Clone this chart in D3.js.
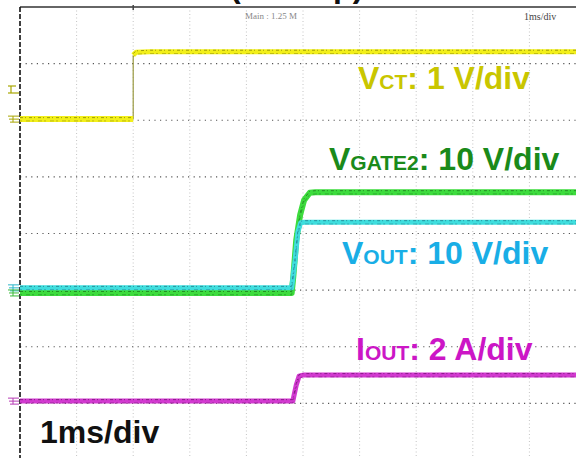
<!DOCTYPE html>
<html><head><meta charset="utf-8">
<script src="https://cdn.jsdelivr.net/npm/d3@7"></script>
<style>html,body{margin:0;padding:0;background:#fff;}svg{display:block;}</style>
</head><body>
<svg id="c" width="576" height="458"></svg>
<script>
// ---- data (time in ms, value in divisions from screen centre) ----
const xDivs = [0,1,2,3,4,5,6,7,8,9,10];
const yDivs = [-4,-3,-2,-1,0,1,2,3,4];
const vctLowT  = [0, 2.0];
const vctLowV  = [2.02, 2.02];
const vctHighT = [2.0, 2.05, 2.3, 10];
const vctHighV = [3.15, 3.2, 3.21, 3.21];
const gateT = [0, 4.80, 4.83, 4.88, 4.95, 5.02, 5.12, 5.22, 10];
const gateV = [-1.05, -1.05, -0.75, -0.12, 0.33, 0.59, 0.72, 0.73, 0.73];
const voutT = [0, 4.80, 4.86, 4.91, 4.96, 5.02, 10];
const voutV = [-0.96, -0.96, -0.47, 0.03, 0.19, 0.20, 0.20];
const ioutT = [0, 4.82, 4.88, 4.93, 5.00, 10];
const ioutV = [-2.96, -2.96, -2.68, -2.52, -2.50, -2.50];
const labels = [
  {main:"V", sub:"CT",    rest:": 1 V/div",  color:"#c9c600", x:358, y:89},
  {main:"V", sub:"GATE2", rest:": 10 V/div", color:"#1a8a1a", x:329, y:170},
  {main:"V", sub:"OUT",   rest:": 10 V/div", color:"#19aee6", x:342, y:264},
  {main:"I", sub:"OUT",   rest:": 2 A/div",  color:"#cc16c6", x:356, y:360}
];
const timebase = "1ms/div";
const headerMain = "Main : 1.25 M";
const headerTb = "1ms/div";
const titleCut = "(Startup)";

const svg = d3.select("#c");
const W = 576, H = 458;
const x = d3.scaleLinear().domain([0,10]).range([20,586]);
const y = d3.scaleLinear().domain([-4,4]).range([460,7]);

svg.append("rect").attr("width",W).attr("height",H).attr("fill","#fff");

// clipped title at the very top (only its lower edge shows, as in the reference)
svg.append("text").attr("x",230).attr("y",-3)
  .attr("font-family","Liberation Sans, Arial, sans-serif").attr("font-weight","bold")
  .attr("font-size",32).attr("fill","#111").text(titleCut);

// vertical grid (light dotted)
svg.append("g").selectAll("line").data(xDivs.filter(d=>d>0)).join("line")
  .attr("x1",d=>x(d)).attr("x2",d=>x(d)).attr("y1",y(4)).attr("y2",H)
  .attr("stroke","#c4c4c4").attr("stroke-width",1).attr("stroke-dasharray","1,2.5");
// horizontal grid (dark dotted)
svg.append("g").selectAll("line").data(yDivs.filter(d=>d<4 && d>-4)).join("line")
  .attr("x1",x(0)).attr("x2",W).attr("y1",d=>y(d)).attr("y2",d=>y(d))
  .attr("stroke","#555").attr("stroke-width",1.2).attr("stroke-dasharray","1.2,4.4");

// top border & left dashed border
svg.append("line").attr("x1",x(0)).attr("x2",W).attr("y1",y(4)).attr("y2",y(4))
  .attr("stroke","#666").attr("stroke-width",1.8);
svg.append("line").attr("x1",x(0)).attr("x2",x(0)).attr("y1",y(4)).attr("y2",H)
  .attr("stroke","#111").attr("stroke-width",1.6).attr("stroke-dasharray","5,2");
svg.append("line").attr("x1",x(2)).attr("x2",x(2)).attr("y1",y(4)-2).attr("y2",y(4)+3)
  .attr("stroke","#444").attr("stroke-width",1.5);

// header texts
svg.append("text").attr("x",245).attr("y",19).attr("font-family","Liberation Serif, serif")
  .attr("font-size",9).attr("fill","#888").text(headerMain);
svg.append("text").attr("x",524).attr("y",20).attr("font-family","Liberation Serif, serif")
  .attr("font-size",10).attr("fill","#444").text(headerTb);

const line = d3.line().x(d=>x(d[0])).y(d=>y(d[1]));
const zip = (t,v)=>t.map((d,i)=>[d,v[i]]);

function trace(t, v, color, dark, w){
  const pts = zip(t,v);
  svg.append("path").attr("d",line(pts)).attr("fill","none")
    .attr("stroke",color).attr("stroke-width",w).attr("stroke-linejoin","round");
  svg.append("path").attr("d",line(pts)).attr("fill","none")
    .attr("stroke",dark).attr("stroke-width",1).attr("stroke-dasharray","3,2,1,3")
    .attr("opacity",0.7).attr("transform","translate(0,-1.5)");
  svg.append("path").attr("d",line(pts)).attr("fill","none")
    .attr("stroke",dark).attr("stroke-width",0.8).attr("stroke-dasharray","2,4,4,2")
    .attr("opacity",0.55).attr("transform","translate(0,1.8)");
}

// yellow VCT: thin edge, thick levels
svg.append("path").attr("d",line([[vctLowT[1],vctLowV[1]],[vctHighT[0],vctHighV[0]]]))
  .attr("stroke","#9a9a40").attr("stroke-width",1.2).attr("fill","none");
trace(vctLowT, vctLowV, "#f2ef1a", "#7c7a00", 6);
trace(vctHighT, vctHighV, "#f2ef1a", "#7c7a00", 5);

trace(gateT, gateV, "#3ddc3d", "#1a6a1a", 6);
trace(voutT, voutV, "#3fdede", "#1d6f80", 5);
trace(ioutT, ioutV, "#d23ad0", "#6a106a", 5);

// left-side ground / trigger markers
function gnd(v, color){
  const g = svg.append("g").attr("stroke",color).attr("stroke-width",1);
  [-3,0,3].forEach((o,i)=>g.append("line").attr("x1",8+i).attr("x2",19).attr("y1",y(v)+o).attr("y2",y(v)+o));
  g.append("line").attr("x1",13).attr("x2",13).attr("y1",y(v)-3).attr("y2",y(v)+3);
}
gnd(2.02, "#a8a600");
gnd(-0.96, "#2bb6c8");
gnd(-1.05, "#3aba3a");
gnd(-2.96, "#b63ab4");
const tg = svg.append("g").attr("stroke","#a8a600").attr("stroke-width",1.2);
tg.append("line").attr("x1",8).attr("x2",16).attr("y1",86).attr("y2",86);
tg.append("line").attr("x1",11).attr("x2",11).attr("y1",86).attr("y2",93);
tg.append("line").attr("x1",8).attr("x2",19).attr("y1",93).attr("y2",93);

// labels
labels.forEach(l=>{
  const t = svg.append("text").attr("x",l.x).attr("y",l.y)
    .attr("font-family","Liberation Sans, Arial, sans-serif").attr("font-weight","bold")
    .attr("font-size",32).attr("fill",l.color);
  t.append("tspan").text(l.main);
  t.append("tspan").attr("font-size",21).text(l.sub);
  t.append("tspan").text(l.rest);
});
svg.append("text").attr("x",40).attr("y",443)
  .attr("font-family","Liberation Sans, Arial, sans-serif").attr("font-weight","bold")
  .attr("font-size",32).attr("fill","#111").text(timebase);
</script>
</body></html>
